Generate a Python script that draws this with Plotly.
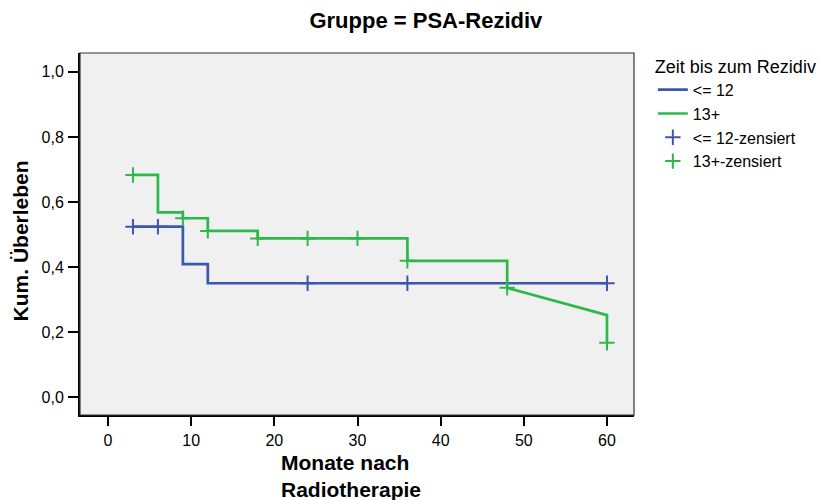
import plotly.graph_objects as go

# ---- data ----
# Kaplan-Meier curve vertices (time in months, cumulative survival)
blue_time = [3, 9, 9, 12, 12, 60]
blue_surv = [0.524, 0.524, 0.409, 0.409, 0.350, 0.350]
green_time = [3, 6, 6, 9, 9, 12, 12, 18, 18, 36, 36, 48, 48, 60, 60]
green_surv = [0.683, 0.683, 0.568, 0.568, 0.550, 0.550, 0.511, 0.511,
              0.488, 0.488, 0.419, 0.419, 0.336, 0.252, 0.167]

# censored observations
blue_cens_time = [3, 6, 24, 36, 60]
blue_cens_surv = [0.524, 0.524, 0.350, 0.350, 0.350]
green_cens_time = [3, 9, 12, 18, 24, 30, 36, 48, 60]
green_cens_surv = [0.683, 0.550, 0.511, 0.488, 0.488, 0.488, 0.419, 0.336, 0.167]

series_names = ["<= 12", "13+", "<= 12-zensiert", "13+-zensiert"]
x_ticks = [0, 10, 20, 30, 40, 50, 60]
y_ticks = [0.0, 0.2, 0.4, 0.6, 0.8, 1.0]

BLUE = "#3D57AE"
GREEN = "#2EB84C"
FONT = "Liberation Sans, Arial, Helvetica, sans-serif"

fig = go.Figure()
fig.add_trace(go.Scatter(x=blue_time, y=blue_surv, mode="lines", name=series_names[0],
                         line=dict(color=BLUE, width=2.7)))
fig.add_trace(go.Scatter(x=green_time, y=green_surv, mode="lines", name=series_names[1],
                         line=dict(color=GREEN, width=2.7)))
fig.add_trace(go.Scatter(x=blue_cens_time, y=blue_cens_surv, mode="markers", name=series_names[2],
                         marker=dict(symbol="cross-thin", size=11, color=BLUE,
                                     line=dict(color=BLUE, width=2))))
fig.add_trace(go.Scatter(x=green_cens_time, y=green_cens_surv, mode="markers", name=series_names[3],
                         marker=dict(symbol="cross-thin", size=11, color=GREEN,
                                     line=dict(color=GREEN, width=2))))

fig.update_layout(
    width=819, height=500,
    margin=dict(l=80, r=185, t=53, b=85, autoexpand=False),
    paper_bgcolor="white",
    plot_bgcolor="#F0F0F0",
    separators=",.",
    font=dict(family=FONT, color="black", size=16),
    title=dict(text="<b>Gruppe = PSA-Rezidiv</b>", x=0.52, xref="container", xanchor="center",
               y=0.96, yref="container", yanchor="middle",
               font=dict(family=FONT, size=22, color="black")),
    showlegend=True,
    legend=dict(
        x=1.034, xanchor="left", y=1.01, yanchor="top",
        title=dict(text="Zeit bis zum Rezidiv", font=dict(family=FONT, size=18)),
        font=dict(family=FONT, size=16, color="black"),
        bgcolor="rgba(0,0,0,0)", borderwidth=0, tracegroupgap=0,
    ),
    xaxis=dict(
        range=[-3.37, 63.25], tickvals=x_ticks, showgrid=False, zeroline=False,
        showline=True, linecolor="black", linewidth=2,
        ticks="outside", ticklen=9, tickwidth=2, tickcolor="black",
        ticklabelstandoff=1, tickfont=dict(size=16),
    ),
    yaxis=dict(
        range=[-0.055, 1.058], tickvals=y_ticks, tickformat=".1f", showgrid=False, zeroline=False,
        showline=True, linecolor="black", linewidth=2,
        ticks="outside", ticklen=10, tickwidth=2, tickcolor="black",
        ticklabelstandoff=1, tickfont=dict(size=16),
    ),
    shapes=[dict(type="rect", xref="paper", yref="paper", x0=0, x1=1, y0=0, y1=1,
                 line=dict(color="#333333", width=1.2), fillcolor="rgba(0,0,0,0)", layer="above")],
    annotations=[
        dict(text="<b>Monate nach<br>Radiotherapie</b>", xref="paper", yref="paper",
             x=0.49, y=-0.095, xanchor="center", yanchor="top", align="left", showarrow=False,
             font=dict(family=FONT, size=21, color="black")),
        dict(text="<b>Kum. Überleben</b>", xref="paper", yref="paper", textangle=-90,
             x=-0.108, y=0.48, xanchor="center", yanchor="middle", showarrow=False,
             font=dict(family=FONT, size=21, color="black")),
    ],
)

fig.write_html("out.html")
